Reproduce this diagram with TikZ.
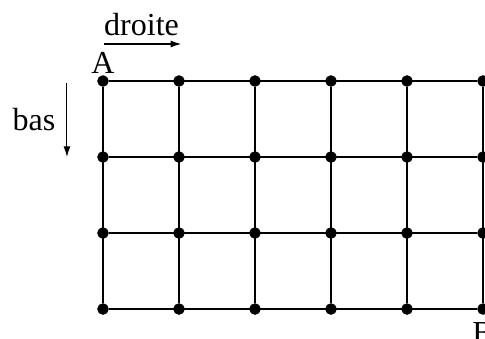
\documentclass[tikz,border=0pt]{standalone}
\usepackage{fontspec}
\setmainfont{Liberation Serif}
\usetikzlibrary{arrows.meta}

\begin{document}
\begin{tikzpicture}[x=1cm,y=1cm,
    vertex/.style={circle,draw,fill=black,minimum size=3.9pt,inner sep=0pt},
    word/.style={font=\fontsize{12}{14}\selectfont,inner sep=0pt,anchor=base}]
\useasboundingbox (-1.355,-3.382) rectangle (5.026,1.066);

% grid points
\foreach \i in {0,...,5}
  \foreach \j in {0,...,3}
    \node[vertex] (\i-\j) at (\i,-\j) {};

% grid lines
\foreach \j in {0,...,3}
  \draw (0-\j) -- (5-\j);
\foreach \i in {0,...,5}
  \draw (\i-0) -- (\i-3);

\node[word] (A) at (0,0.105) {A};
\node[word,anchor=north] (B) at (5,-3.17) {B};

% directions
\node[word] (droite) at (0.507,0.605) {droite};
\coordinate (d1) at (0.01,0.487);
\coordinate (d2) at (1.03,0.487);
\draw[-{Latex[length=4pt,width=2.6pt]}] (d1) -- (d2);

\node[word] (bas) at (-0.908,-0.645) {bas};
\coordinate (b1) at (-0.474,-0.026);
\coordinate (b2) at (-0.474,-1.0);
\draw[-{Latex[length=4pt,width=2.6pt]}] (b1) -- (b2);
\end{tikzpicture}
\end{document}
